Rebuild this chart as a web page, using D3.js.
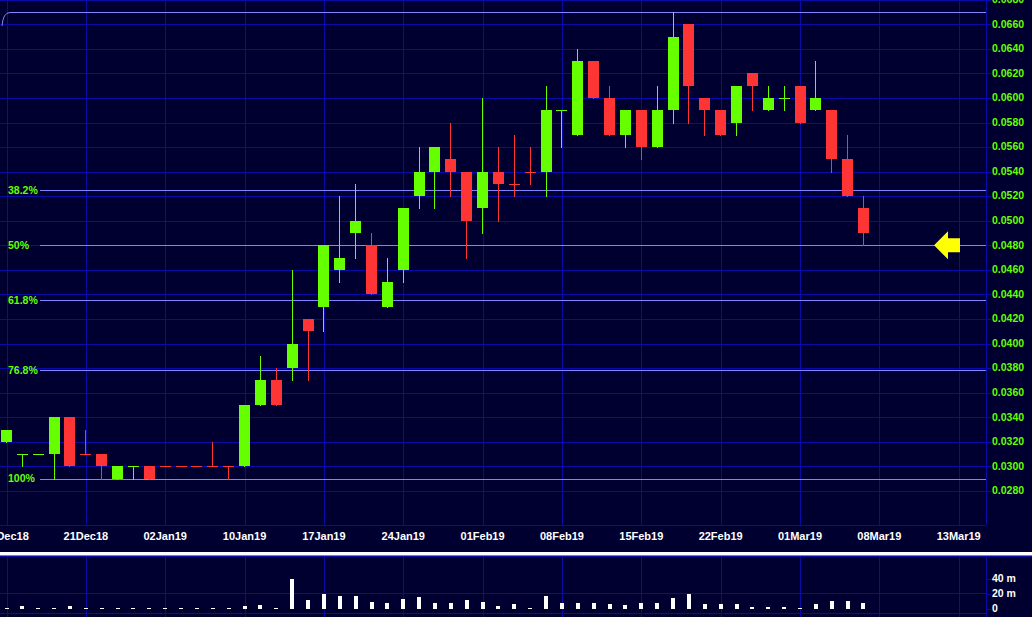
<!DOCTYPE html>
<html>
<head>
<meta charset="utf-8">
<script src="https://cdn.jsdelivr.net/npm/d3@7"></script>
<style>
  html, body { margin: 0; padding: 0; background: #000030; }
  svg { display: block; }
  text { font-family: "Liberation Sans", Arial, sans-serif; font-weight: bold; }
</style>
</head>
<body>
<svg id="chart" width="1032" height="617"></svg>
<script>
// ---------- DATA ----------
const dateLabels = ["14Dec18","21Dec18","02Jan19","10Jan19","17Jan19","24Jan19","01Feb19","08Feb19","15Feb19","22Feb19","01Mar19","08Mar19","13Mar19"];
const opens  = [0.032,0.031,0.031,0.031,0.034,0.031,0.031,0.029,0.030,0.030,0.030,0.030,0.030,0.030,0.030,0.030,0.035,0.037,0.038,0.042,0.043,0.046,0.049,0.048,0.043,0.046,0.052,0.054,0.055,0.054,0.051,0.054,0.053,0.054,0.054,0.059,0.057,0.063,0.060,0.057,0.059,0.056,0.059,0.066,0.060,0.059,0.058,0.062,0.059,0.060,0.061,0.059,0.059,0.055,0.051];
const highs  = [0.033,0.031,0.031,0.034,0.034,0.033,0.031,0.030,0.030,0.030,0.030,0.030,0.030,0.032,0.030,0.035,0.039,0.038,0.046,0.042,0.048,0.052,0.053,0.049,0.047,0.051,0.056,0.056,0.058,0.054,0.060,0.056,0.057,0.056,0.061,0.059,0.064,0.063,0.061,0.059,0.059,0.061,0.067,0.066,0.060,0.059,0.061,0.062,0.061,0.061,0.061,0.063,0.059,0.057,0.052];
const lows   = [0.032,0.030,0.031,0.029,0.030,0.031,0.029,0.029,0.029,0.029,0.030,0.030,0.030,0.030,0.029,0.030,0.035,0.035,0.037,0.037,0.041,0.045,0.047,0.044,0.043,0.045,0.051,0.051,0.052,0.047,0.049,0.050,0.052,0.053,0.052,0.056,0.057,0.060,0.057,0.056,0.055,0.056,0.058,0.058,0.057,0.057,0.057,0.059,0.059,0.059,0.058,0.059,0.054,0.052,0.048];
const closes = [0.033,0.031,0.031,0.034,0.030,0.031,0.030,0.030,0.030,0.029,0.030,0.030,0.030,0.030,0.030,0.035,0.037,0.035,0.040,0.041,0.048,0.047,0.050,0.044,0.045,0.051,0.054,0.056,0.054,0.050,0.054,0.053,0.053,0.054,0.059,0.059,0.063,0.060,0.057,0.059,0.056,0.059,0.065,0.061,0.059,0.057,0.061,0.061,0.060,0.060,0.058,0.060,0.055,0.052,0.049];
const rising = [1,1,1,1,0,0,0,1,1,0,0,0,0,0,0,1,1,0,1,0,1,1,1,0,1,1,1,1,0,0,1,0,0,0,1,1,1,0,0,1,0,1,1,0,0,0,1,0,1,1,0,1,0,0,0];
const volumesM = [1.3,2.7,0.7,1.3,2.7,0.7,0.7,0.7,0.7,0.7,0.7,0.7,0.7,0.7,0.7,2.7,5.3,1.3,40,12,18.7,17.3,17.3,9.3,6.7,13.3,14.7,8,6.7,12,9.3,2.7,6,1.3,16.7,7,7,7,6,5,7,7,14,19,6,6,6,2.3,2.3,2.3,1,6,9.5,9.5,7];
const priceTicks = d3.range(0.028, 0.0681, 0.002);
const volumeTicks = [0, 20, 40];
const fibLevels = [0, 0.382, 0.5, 0.618, 0.768, 1];
const fibNames  = ["", "38.2%", "50%", "61.8%", "76.8%", "100%"];
const fibHigh = 0.067, fibLow = 0.029;
const arrowPrice = 0.048;

// ---------- STYLE ----------
const BG = "#000030", GRID = "#0a0aa8", FIB = "#8282ff", UP = "#66ff00", DOWN = "#ff3535";
const W = 1032, H = 617;
const axisX = 986, priceBottom = 525, volTop = 556.5;

const svg = d3.select("#chart");
svg.append("rect").attr("width", W).attr("height", H).attr("fill", BG);

const x = d3.scaleLinear().domain([0, 60]).range([6.5, 958.7]);
const y = d3.scaleLinear().domain([0.028, 0.066]).range([490.9, 24.3]);
const yv = d3.scaleLinear().domain([0, 40]).range([608.5, 578.5]);
const px = v => Math.round(v) + 0.5;

const N = closes.length;
const idx = d3.range(N);

// clip for price panel
svg.append("clipPath").attr("id", "pclip").append("rect").attr("x", 0).attr("y", 0).attr("width", axisX).attr("height", priceBottom);

// ---------- PRICE GRID ----------
const grid = svg.append("g").attr("stroke", GRID).attr("stroke-width", 1);
grid.selectAll("line.h").data(priceTicks).join("line")
  .attr("x1", 0).attr("x2", axisX + 5)
  .attr("y1", d => px(y(d))).attr("y2", d => px(y(d)));
const labelIdx = d3.range(dateLabels.length).map(i => i * 5);
grid.selectAll("line.v").data(labelIdx).join("line")
  .attr("x1", d => px(x(d))).attr("x2", d => px(x(d)))
  .attr("y1", 0).attr("y2", priceBottom);
// frame of price panel
grid.append("line").attr("x1", px(axisX)).attr("x2", px(axisX)).attr("y1", 0).attr("y2", priceBottom);
grid.append("line").attr("x1", 0).attr("x2", axisX).attr("y1", px(priceBottom)).attr("y2", px(priceBottom));

// ---------- FIB LINES ----------
const fibVal = f => fibHigh - f * (fibHigh - fibLow);
const fib = svg.append("g");
fib.selectAll("line").data(fibLevels).join("line")
  .attr("x1", (d, i) => i === 0 ? 10 : 40).attr("x2", axisX)
  .attr("y1", d => px(y(fibVal(d)))).attr("y2", d => px(y(fibVal(d))))
  .attr("stroke", FIB).attr("stroke-width", 1);
fib.append("path").attr("d", `M10,${px(y(fibHigh))} Q3,${px(y(fibHigh))} 2,26`)
  .attr("fill", "none").attr("stroke", FIB).attr("stroke-width", 1);
fib.selectAll("text").data(fibLevels).join("text")
  .attr("x", 8).attr("y", d => y(fibVal(d)) + 0.5)
  .attr("dominant-baseline", "middle")
  .attr("fill", UP).attr("font-size", "10.5px")
  .text((d, i) => fibNames[i]);

// ---------- CANDLES ----------
const cg = svg.append("g").attr("clip-path", "url(#pclip)");
const col = i => rising[i] ? UP : DOWN;
cg.selectAll("line.wick").data(idx).join("line")
  .attr("x1", i => px(x(i) - 0.5)).attr("x2", i => px(x(i) - 0.5))
  .attr("y1", i => Math.round(y(highs[i]))).attr("y2", i => Math.round(y(lows[i])) + 1)
  .attr("stroke", col).attr("stroke-width", 1);
cg.selectAll("rect.body").data(idx).join("rect")
  .attr("x", i => Math.round(x(i) - 5.5))
  .attr("width", 11)
  .attr("y", i => Math.round(y(Math.max(opens[i], closes[i]))))
  .attr("height", i => Math.max(1, Math.round(y(Math.min(opens[i], closes[i]))) - Math.round(y(Math.max(opens[i], closes[i])))))
  .attr("fill", col);

// ---------- PRICE AXIS ----------
svg.append("g").selectAll("text").data(priceTicks).join("text")
  .attr("x", 992).attr("y", d => y(d) + 0.5)
  .attr("dominant-baseline", "middle")
  .attr("fill", UP).attr("font-size", "10.5px")
  .text(d => d3.format(".4f")(d));

// ---------- ARROW ----------
const ay = y(arrowPrice), ax = 934;
svg.append("path")
  .attr("d", `M${ax},${ay} L${ax + 14},${ay - 14} L${ax + 14},${ay - 7} L${ax + 26},${ay - 7} L${ax + 26},${ay + 7} L${ax + 14},${ay + 7} L${ax + 14},${ay + 14} Z`)
  .attr("fill", "#ffff00");

// ---------- DATE LABELS ----------
svg.append("g").selectAll("text").data(dateLabels).join("text")
  .attr("x", (d, i) => x(labelIdx[i])).attr("y", 537.5)
  .attr("text-anchor", "middle").attr("dominant-baseline", "middle")
  .attr("fill", "#ffffff").attr("font-size", "11px")
  .text(d => d);

// ---------- SEPARATOR ----------
svg.append("rect").attr("x", 0).attr("y", 552).attr("width", W).attr("height", 3.5).attr("fill", "#ffffff");

// ---------- VOLUME PANEL ----------
const vg = svg.append("g").attr("stroke", GRID).attr("stroke-width", 1);
vg.append("line").attr("x1", 0).attr("x2", W).attr("y1", volTop).attr("y2", volTop);
vg.append("line").attr("x1", 0).attr("x2", axisX).attr("y1", px(yv(20)) - 1).attr("y2", px(yv(20)) - 1);
vg.append("line").attr("x1", 0).attr("x2", axisX).attr("y1", 613.5).attr("y2", 613.5);
vg.selectAll("line.v").data(labelIdx).join("line")
  .attr("x1", d => px(x(d))).attr("x2", d => px(x(d)))
  .attr("y1", volTop).attr("y2", H);
vg.append("line").attr("x1", px(axisX)).attr("x2", px(axisX)).attr("y1", volTop).attr("y2", H);
vg.selectAll("line.t").data(volumeTicks).join("line")
  .attr("x1", axisX).attr("x2", axisX + 5)
  .attr("y1", d => px(yv(d))).attr("y2", d => px(yv(d)));

svg.append("g").selectAll("rect").data(idx).join("rect")
  .attr("x", i => Math.round(x(i) - 2))
  .attr("width", 4)
  .attr("y", i => Math.min(608, Math.round(yv(volumesM[i]))))
  .attr("height", i => Math.max(1, 609 - Math.min(608, Math.round(yv(volumesM[i])))))
  .attr("fill", "#ffffff");

svg.append("g").selectAll("text").data(volumeTicks).join("text")
  .attr("x", 992).attr("y", d => yv(d) + 0.5)
  .attr("dominant-baseline", "middle")
  .attr("fill", "#ffffff").attr("font-size", "10.5px")
  .text(d => d === 0 ? "0" : d + " m");
</script>
</body>
</html>
